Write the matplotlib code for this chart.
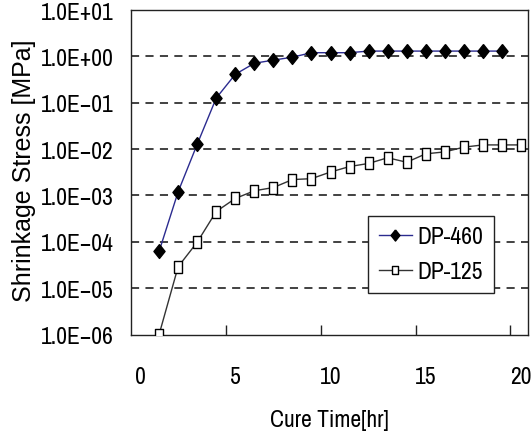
import matplotlib
matplotlib.use('Agg')
import matplotlib.pyplot as plt
import numpy as np

# cure time in hours
hours_460 = [1, 2, 3, 4, 5, 6, 7, 8, 9, 10, 11, 12, 13, 14, 15, 16, 17, 18, 19]
stress_460 = [6.2e-5, 1.2e-3, 1.27e-2, 0.126, 0.41, 0.71, 0.83, 0.96, 1.2, 1.2,
              1.2, 1.3, 1.3, 1.3, 1.3, 1.3, 1.3, 1.3, 1.3]

hours_125 = [1, 2, 3, 4, 5, 6, 7, 8, 9, 10, 11, 12, 13, 14, 15, 16, 17, 18, 19, 20]
stress_125 = [1.0e-6, 2.9e-5, 9.8e-5, 4.5e-4, 8.6e-4, 1.26e-3, 1.48e-3, 2.2e-3,
              2.3e-3, 3.2e-3, 4.2e-3, 4.9e-3, 6.5e-3, 5.2e-3, 7.9e-3, 8.7e-3,
              1.1e-2, 1.23e-2, 1.23e-2, 1.23e-2]

ytick_vals = [1e-6, 1e-5, 1e-4, 1e-3, 1e-2, 1e-1, 1e0, 1e1]
ytick_labels = ['1.0E-06', '1.0E-05', '1.0E-04', '1.0E-03',
                '1.0E-02', '1.0E-01', '1.0E+00', '1.0E+01']
xtick_vals = [0, 5, 10, 15, 20]

narrow = ['Archivo Narrow', 'PT Sans Narrow', 'DejaVu Sans']
wide = ['Liberation Sans', 'DejaVu Sans']

#tall marker shapes as in the original
diamond = [(0, 1), (0.8, 0), (0, -1), (-0.8, 0), (0, 1)]
rect = [(-0.75, -1), (0.75, -1), (0.75, 1), (-0.75, 1), (-0.75, -1)]

fig = plt.figure(figsize=(5.31, 4.35), dpi=100)
ax = fig.add_axes([0.2476, 0.2287, 0.7468, 0.746])

ax.plot(hours_460, stress_460, color='#2b2b8f', lw=1.0, marker=diamond,
        ms=10, mfc='black', mec='black', label='DP-460', zorder=3)
ax.plot(hours_125, stress_125, color='#333333', lw=1.0, marker=rect,
        ms=8, mfc='white', mec='black', mew=1.0, label='DP-125', zorder=3)

ax.set_yscale('log')
ax.set_ylim(1e-6, 1e1)
ax.set_xlim(-0.45, 20.37)

#dashed lines at each decade
for v in ytick_vals[1:-1]:
    ax.axhline(v, color='#333333', lw=1.3, ls=(0, (4.5, 3.5)), zorder=1)

ax.set_yticks(ytick_vals)
ax.set_yticklabels([s.replace('-', '\u2212') for s in ytick_labels],
                   family=narrow, fontsize=17)
ax.yaxis.set_minor_locator(matplotlib.ticker.NullLocator())
ax.tick_params(axis='y', length=0, pad=13)

ax.set_xticks(xtick_vals)
ax.set_xticklabels([str(v) for v in xtick_vals], family=narrow, fontsize=17)
ax.tick_params(axis='x', which='major', length=0, pad=23)
#inward ticks sit a bit left of the labels
ax.set_xticks([4.5, 9.5, 14.5, 19.4], minor=True)
ax.tick_params(axis='x', which='minor', direction='in', length=7, width=1.0,
               color='#222222')

for s in ax.spines.values():
    s.set_color('#222222')
    s.set_linewidth(1.0)

ax.set_xlabel('Cure Time[hr]', family=narrow, fontsize=17)
ax.xaxis.set_label_coords(0.5, -0.228)
ax.set_ylabel('Shrinkage Stress [MPa]', family=wide, fontsize=18)
ax.yaxis.set_label_coords(-0.27, 0.507)
ax.yaxis.label.set_va('center')

leg = ax.legend(loc='lower left', bbox_to_anchor=(0.597, 0.128),
                prop={'family': narrow, 'size': 17}, frameon=True, fancybox=False,
                handlelength=1.4, handletextpad=0.25, borderpad=0.45,
                labelspacing=0.6, borderaxespad=0, markerscale=0.8)
leg.get_frame().set_edgecolor('#222222')
leg.get_frame().set_linewidth(1.0)
leg.get_frame().set_alpha(1)

fig.savefig('out.png', dpi=100)
